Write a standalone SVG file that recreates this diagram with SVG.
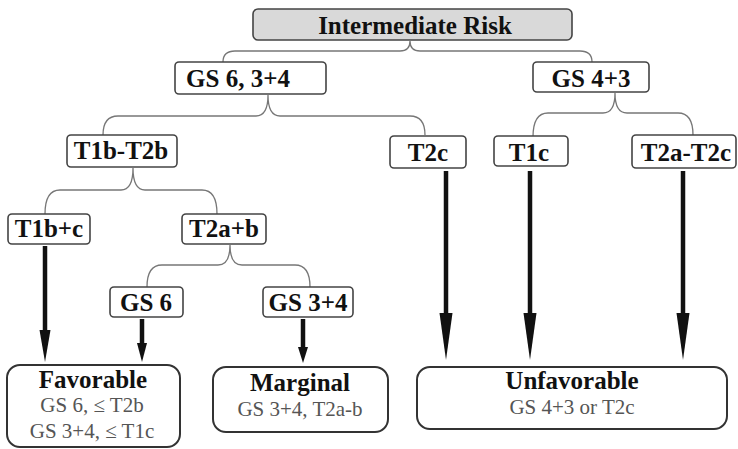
<svg xmlns="http://www.w3.org/2000/svg" width="738" height="449" viewBox="0 0 738 449">
<style>
.n rect{fill:#fff;stroke:#444;stroke-width:1.6}
.top rect{fill:#d9d9d9}
.r rect{fill:#fff;stroke:#333;stroke-width:2}
.t{font-family:"Liberation Serif","Times New Roman",serif;font-weight:bold;font-size:25px;fill:#111;text-anchor:middle}
.s{font-family:"Liberation Serif","Times New Roman",serif;font-size:21px;fill:#555;text-anchor:middle}
.br{fill:none;stroke:#777;stroke-width:1.3}
.sh{stroke:#111;stroke-width:4.5;fill:none}
.hd{fill:#111}
</style>
<rect width="738" height="449" fill="#fff"/>
<g id="connectors">
<path class="br" d="M223,62 Q223,51 235,51 H400 Q410,51 410,41 Q410,51 420,51 H580 Q592,51 592,62"/>
<path class="br" d="M103,135 Q103,116 118,116 H256 Q268,116 268,95 Q268,116 280,116 H410 Q425,116 425,135"/>
<path class="br" d="M533,137 Q533,113 548,113 H603 Q615,113 615,93 Q615,113 627,113 H678 Q693,113 693,135"/>
<path class="br" d="M45,214 Q45,190 60,190 H121 Q133,190 133,168 Q133,190 145,190 H202 Q217,190 217,214"/>
<path class="br" d="M147,287 Q147,265 162,265 H218 Q230,265 230,245 Q230,265 242,265 H295 Q310,265 310,287"/>
<line class="sh" x1="45" y1="246" x2="45" y2="334"/>
<polygon class="hd" points="39.5,330 50.5,330 45,362"/>
<line class="sh" x1="142" y1="319" x2="142" y2="346"/>
<polygon class="hd" points="137,343 147,343 142,362"/>
<line class="sh" x1="303" y1="319" x2="303" y2="350"/>
<polygon class="hd" points="298,347 308,347 303,363"/>
<line class="sh" x1="446" y1="171" x2="446" y2="316"/>
<polygon class="hd" points="439.5,313 452.5,313 446,360"/>
<line class="sh" x1="530" y1="171" x2="530" y2="316"/>
<polygon class="hd" points="523.5,313 536.5,313 530,360"/>
<line class="sh" x1="683" y1="171" x2="683" y2="316"/>
<polygon class="hd" points="676.5,313 689.5,313 683,360"/>
</g>
<g id="n-intermediate" class="n top"><rect x="253" y="9" width="319" height="31" rx="5"/><text class="t" x="415" y="34">Intermediate Risk</text></g>
<g id="n-gs634" class="n"><rect x="175" y="62" width="151" height="32" rx="4"/><text class="t" x="238" y="87">GS 6, 3+4</text></g>
<g id="n-gs43" class="n"><rect x="533" y="62" width="116" height="30" rx="4"/><text class="t" x="591" y="87">GS 4+3</text></g>
<g id="n-t1bt2b" class="n"><rect x="67" y="135" width="110" height="32" rx="4"/><text class="t" x="121" y="159">T1b-T2b</text></g>
<g id="n-t2c" class="n"><rect x="390" y="136" width="76" height="32" rx="4"/><text class="t" x="428" y="161">T2c</text></g>
<g id="n-t1c" class="n"><rect x="494" y="136" width="74" height="30" rx="4"/><text class="t" x="529" y="161">T1c</text></g>
<g id="n-t2at2c" class="n"><rect x="632" y="135" width="104" height="33" rx="4"/><text class="t" x="686" y="161">T2a-T2c</text></g>
<g id="n-t1bc" class="n"><rect x="8" y="214" width="82" height="30" rx="4"/><text class="t" x="49" y="237">T1b+c</text></g>
<g id="n-t2ab" class="n"><rect x="182" y="214" width="84" height="30" rx="4"/><text class="t" x="224" y="237">T2a+b</text></g>
<g id="n-gs6" class="n"><rect x="110" y="287" width="73" height="30" rx="4"/><text class="t" x="146" y="311">GS 6</text></g>
<g id="n-gs34" class="n"><rect x="263" y="287" width="90" height="30" rx="4"/><text class="t" x="308" y="311">GS 3+4</text></g>
<g id="n-favorable" class="r"><rect x="7" y="365" width="173" height="82" rx="13"/><text class="t" x="93" y="388">Favorable</text><text class="s" x="92" y="412">GS 6, ≤ T2b</text><text class="s" x="92" y="438">GS 3+4, ≤ T1c</text></g>
<g id="n-marginal" class="r"><rect x="213" y="367" width="175" height="65" rx="13"/><text class="t" x="300" y="391">Marginal</text><text class="s" x="300" y="416">GS 3+4, T2a-b</text></g>
<g id="n-unfavorable" class="r"><rect x="417" y="367" width="310" height="62" rx="13"/><text class="t" x="572" y="389">Unfavorable</text><text class="s" x="572" y="414">GS 4+3 or T2c</text></g>
</svg>
